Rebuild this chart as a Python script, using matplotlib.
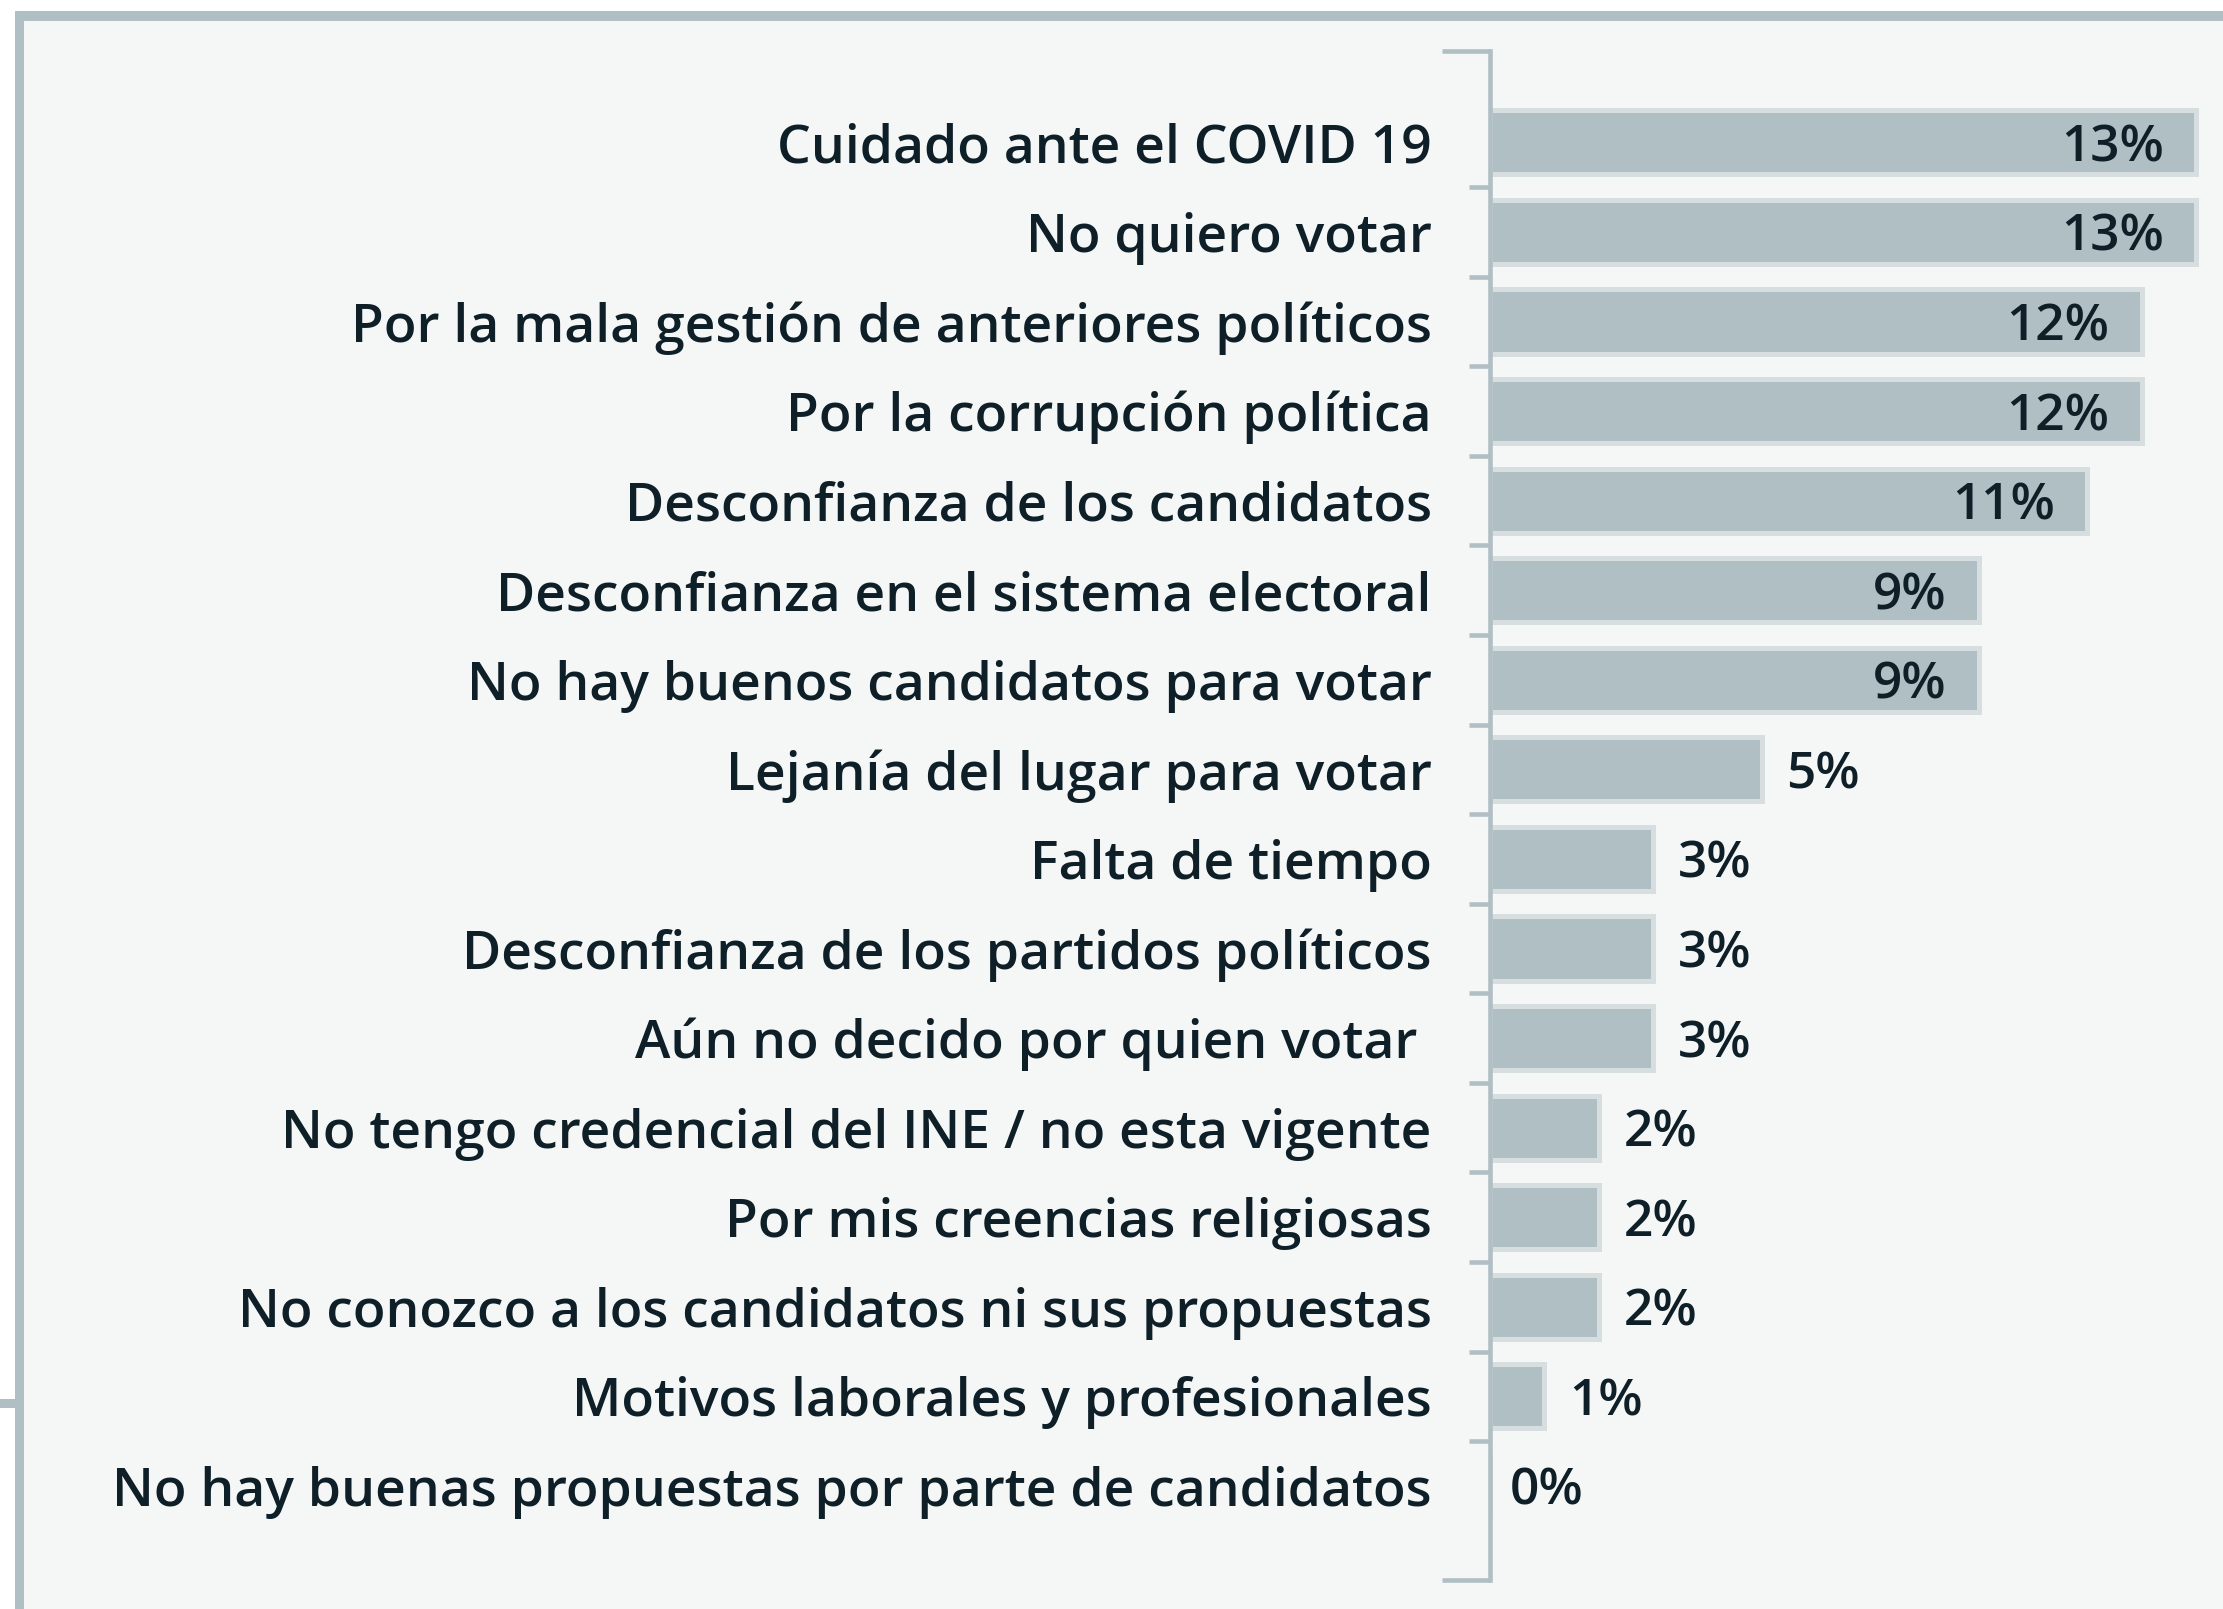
import matplotlib
matplotlib.use("Agg")
import matplotlib.pyplot as plt
from matplotlib.patches import Rectangle
import numpy as np

categories = [
    "Cuidado ante el COVID 19",
    "No quiero votar",
    "Por la mala gestión de anteriores políticos",
    "Por la corrupción política",
    "Desconfianza de los candidatos",
    "Desconfianza en el sistema electoral",
    "No hay buenos candidatos para votar",
    "Lejanía del lugar para votar",
    "Falta de tiempo",
    "Desconfianza de los partidos políticos",
    "Aún no decido por quien votar ",
    "No tengo credencial del INE / no esta vigente",
    "Por mis creencias religiosas",
    "No conozco a los candidatos ni sus propuestas",
    "Motivos laborales y profesionales",
    "No hay buenas propuestas por parte de candidatos",
]
values = [13, 13, 12, 12, 11, 9, 9, 5, 3, 3, 3, 2, 2, 2, 1, 0]
value_labels = [f"{v}%" for v in values]

W, H = 2223, 1609
BAR = "#b0bfc3"
EDGE = "#d6dee0"
PANEL = "#f5f7f7"
TXT = "#0e1f28"
FONT = ["Open Sans", "DejaVu Sans"]

plt.rcParams["font.family"] = FONT

fig = plt.figure(figsize=(W / 100, H / 100), dpi=100)
fig.patch.set_facecolor("white")


def fx(x):
    return x / W


def fy(y):
    return 1 - y / H


# panel and border
for rect in [
    Rectangle((fx(15), fy(H)), fx(W - 15), (H - 11) / H, facecolor=BAR),
    Rectangle((fx(24), fy(H)), fx(W - 24), (H - 21) / H, facecolor=PANEL),
    Rectangle((fx(0), fy(1408)), fx(15), 9 / H, facecolor=BAR),
]:
    rect.set_transform(fig.transFigure)
    rect.set_edgecolor("none")
    rect.set_zorder(-5)
    fig.patches.append(rect)

ax_left, ax_top, ax_bottom = 1490, 51, 1580
ax = fig.add_axes([fx(ax_left), fy(ax_bottom), fx(W - ax_left), (ax_bottom - ax_top) / H])
ax.set_facecolor("none")
ax.set_zorder(5)

px_per_unit = 54.3
xmax = (W - ax_left) / px_per_unit
ax.set_xlim(0, xmax)
ax.set_ylim(16.05, -1.02)

y = np.arange(len(categories))
ax.barh(y, values, height=0.715, color=BAR, edgecolor=EDGE, linewidth=3.6, zorder=2)

for spine in ["top", "right", "bottom"]:
    ax.spines[spine].set_visible(False)
ax.spines["left"].set_color(BAR)
ax.spines["left"].set_linewidth(3.3)
ax.spines["left"].set_zorder(3)

ax.set_xticks([])
ax.set_yticks(y)
ax.set_yticklabels(categories, fontsize=38.5, color=TXT, fontweight="semibold",
                   va="center_baseline")
ax.tick_params(axis="y", which="major", length=0, pad=42)
ax.set_yticks(y[:-1] + 0.5, minor=True)
ax.tick_params(axis="y", which="minor", length=15, width=3.3, color=BAR, direction="out")

# end caps
cap = 48 / px_per_unit
for yy in ax.get_ylim():
    ax.plot([-cap, 0], [yy, yy], color=BAR, lw=3.3, clip_on=False, solid_capstyle="butt", zorder=3)

for yi, v, lab in zip(y, values, value_labels):
    if v >= 9:
        ax.annotate(lab, (v, yi), xytext=(-32, 0), textcoords="offset pixels",
                    ha="right", va="center_baseline", fontsize=37, color=TXT, fontweight="semibold")
    else:
        off = 25 if v > 0 else 20
        ax.annotate(lab, (v, yi), xytext=(off, 0), textcoords="offset pixels",
                    ha="left", va="center_baseline", fontsize=37, color=TXT, fontweight="semibold")

fig.savefig("out.png", dpi=100, facecolor=fig.get_facecolor())
